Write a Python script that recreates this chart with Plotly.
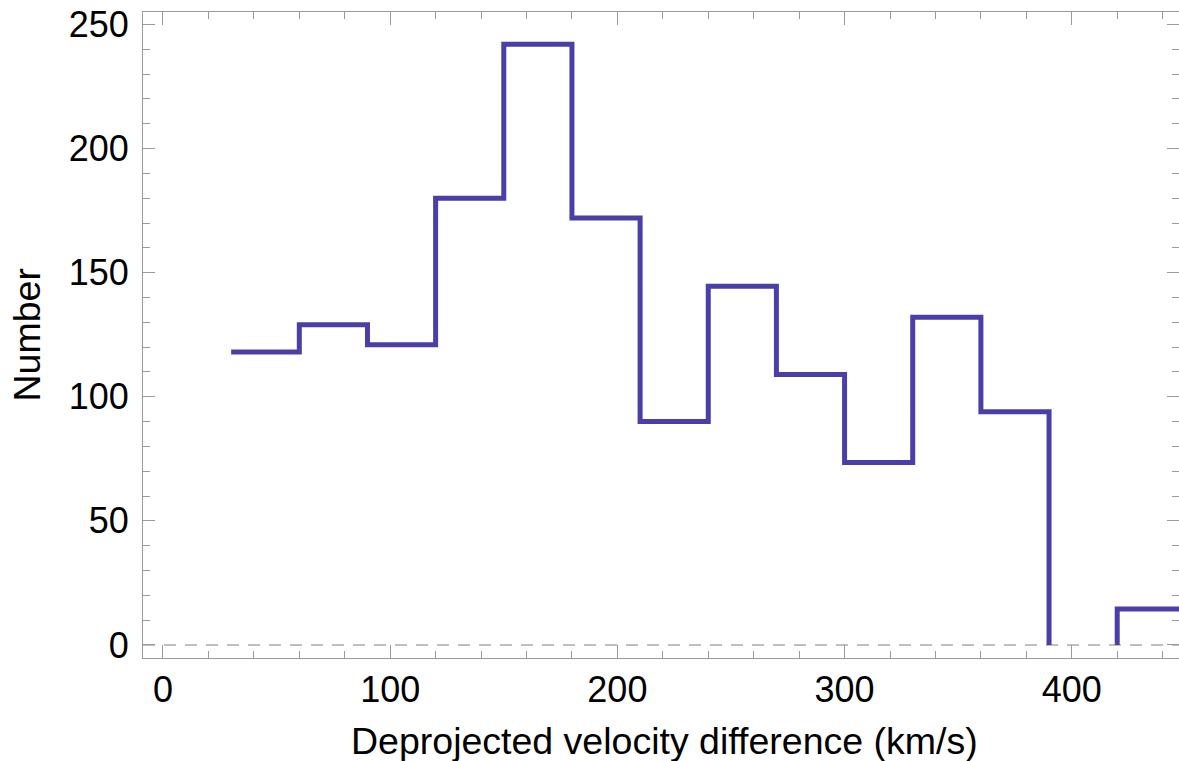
import plotly.graph_objects as go

# Histogram of deprojected velocity differences (bin width 30 km/s)
bin_edges = [30, 60, 90, 120, 150, 180, 210, 240, 270, 300, 330, 360, 390, 420, 450]
counts = [118, 129, 121, 180, 242, 172, 90, 144.5, 109, 73.5, 132, 94, 0, 14.5]

x_ticks = [0, 100, 200, 300, 400]
y_ticks = [0, 50, 100, 150, 200, 250]

LINE_COLOR = "#4a3fa6"
AXIS_COLOR = "#9a9a9a"
FONT = "Liberation Sans, Arial, Helvetica, sans-serif"

# Build the outline of the histogram; empty bins break the outline
xs, ys = [], []
prev = 0
for i, c in enumerate(counts):
    left, right = bin_edges[i], bin_edges[i + 1]
    if c == 0:
        if prev:
            xs += [left]
            ys += [0]
        xs.append(None)
        ys.append(None)
        prev = 0
        continue
    if prev == 0 and i > 0:
        xs += [left]
        ys += [0]
    xs += [left, right]
    ys += [c, c]
    prev = c

fig = go.Figure()
fig.add_trace(go.Scatter(
    x=xs, y=ys, mode="lines", connectgaps=False,
    line=dict(color=LINE_COLOR, width=5),
    hoverinfo="skip", showlegend=False,
))
# invisible trace to anchor the right-hand tick axis
fig.add_trace(go.Scatter(x=[None], y=[None], yaxis="y2", showlegend=False))

X_RANGE = [-8.8, 447.2]
Y_RANGE = [-5.24, 255.0]

fig.add_shape(type="line", xref="paper", yref="y", x0=0, x1=1, y0=0, y1=0,
              line=dict(color="#aaaaaa", width=1.6, dash="12px,9px"), layer="below")

tick_common = dict(
    ticks="inside", tickcolor=AXIS_COLOR, tickwidth=1,
    showgrid=False, zeroline=False,
    tickfont=dict(family=FONT, size=36, color="black"),
)

fig.update_layout(
    width=1179, height=761,
    margin=dict(l=143, r=0, t=12, b=103),
    paper_bgcolor="white", plot_bgcolor="white",
    font=dict(family=FONT, color="black"),
    xaxis=dict(
        range=X_RANGE, tickvals=x_ticks, ticktext=[str(v) for v in x_ticks],
        ticklen=13, showline=True, linecolor=AXIS_COLOR, linewidth=1,
        mirror="ticks", ticklabelstandoff=0,
        minor=dict(dtick=20, tick0=0, ticks="inside", ticklen=7, tickcolor=AXIS_COLOR),
        **tick_common,
    ),
    yaxis=dict(
        range=Y_RANGE, tickvals=y_ticks, ticktext=[str(v) for v in y_ticks],
        ticklen=12, showline=True, linecolor=AXIS_COLOR, linewidth=1,
        ticklabelstandoff=6,
        minor=dict(dtick=10, tick0=0, ticks="inside", ticklen=7, tickcolor=AXIS_COLOR),
        **tick_common,
    ),
    yaxis2=dict(
        range=Y_RANGE, overlaying="y", side="right", tickvals=y_ticks,
        showticklabels=False, ticks="inside", ticklen=12, tickcolor=AXIS_COLOR,
        showline=False, showgrid=False, zeroline=False,
        minor=dict(dtick=10, tick0=0, ticks="inside", ticklen=7, tickcolor=AXIS_COLOR),
    ),
    annotations=[
        dict(text="Deprojected velocity difference (km/s)", xref="paper", yref="paper",
             x=0.503, y=-0.1285, xanchor="center", yanchor="middle", showarrow=False,
             font=dict(family=FONT, size=37.5, color="black")),
        dict(text="Number", xref="paper", yref="paper", x=-0.1115, y=0.5,
             xanchor="center", yanchor="middle", textangle=-90, showarrow=False,
             font=dict(family=FONT, size=37.5, color="black")),
    ],
)

fig.write_html("out.html")
